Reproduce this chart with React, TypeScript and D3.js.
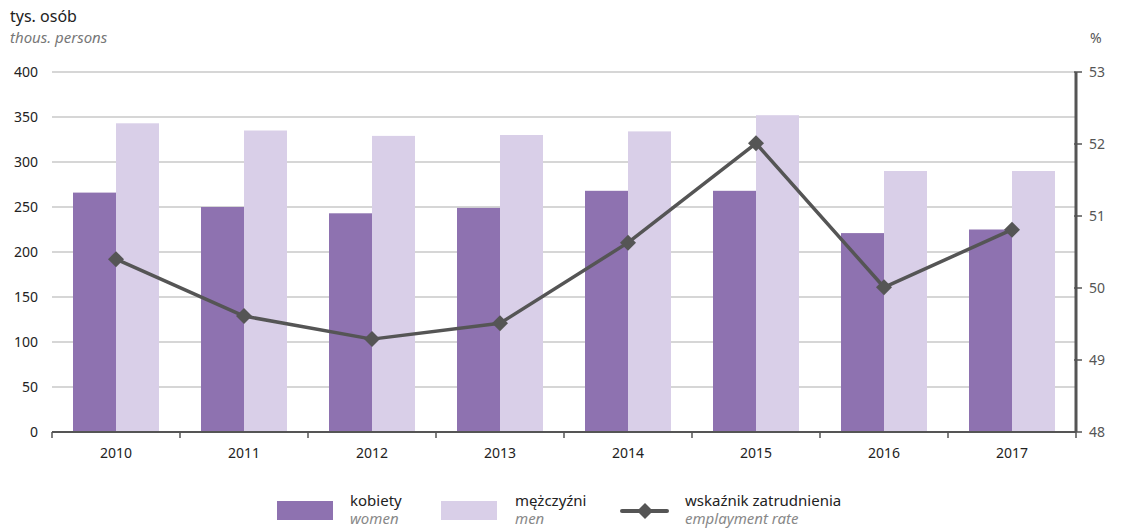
import React from "react";
import * as d3 from "d3";

const years = ["2010", "2011", "2012", "2013", "2014", "2015", "2016", "2017"];
const women = [266, 250, 243, 249, 268, 268, 221, 225];
const men = [343, 335, 329, 330, 334, 352, 290, 290];
const rate = [50.4, 49.61, 49.29, 49.51, 50.63, 52.01, 50.01, 50.81];
const leftTicks = [0, 50, 100, 150, 200, 250, 300, 350, 400];
const rightTicks = [48, 49, 50, 51, 52, 53];

const W = 1121, H = 529;
const X0 = 52, X1 = 1076, Y0 = 432, Y1 = 72;
const FONT = "'Noto Sans', 'Open Sans', sans-serif";
const C_W = "#8e72b0", C_M = "#d9cfe8", C_L = "#555555";

export default function App() {
  const x = d3.scaleBand().domain(years).range([X0, X1]).paddingInner(0).paddingOuter(0);
  const y = d3.scaleLinear().domain([0, 400]).range([Y0, Y1]);
  const yr = d3.scaleLinear().domain([48, 53]).range([Y0, Y1]);
  const bw = x.bandwidth();
  const barW = 43;
  const cx = (yv: string) => (x(yv) as number) + bw / 2;
  const line = d3.line<number>().x((_, i) => cx(years[i])).y((v) => yr(v));
  const diamond = (px: number, py: number, r: number) =>
    `M${px},${py - r}L${px + r},${py}L${px},${py + r}L${px - r},${py}Z`;

  return (
    <svg width={W} height={H} style={{ position: "absolute", left: 0, top: 0, background: "#fff" }} fontFamily={FONT}>
      <text x={10} y={22} fontSize={16} fill="#222">tys. osób</text>
      <text x={10} y={43} fontSize={15} fill="#777" fontStyle="italic">thous. persons</text>
      <text x={1090} y={43} fontSize={14} fill="#555">%</text>
      {leftTicks.map((t) => (
        <g key={t}>
          {t > 0 && <line x1={X0} x2={X1} y1={y(t)} y2={y(t)} stroke="#c8c8c8" strokeWidth={1.5} />}
          <text x={38} y={y(t) + 5} fontSize={14} textAnchor="end" fill="#222">{t}</text>
        </g>
      ))}
      {years.map((yv, i) => (
        <g key={yv}>
          <rect x={cx(yv) - barW} y={y(women[i])} width={barW} height={Y0 - y(women[i])} fill={C_W} />
          <rect x={cx(yv)} y={y(men[i])} width={barW} height={Y0 - y(men[i])} fill={C_M} />
          <text x={cx(yv)} y={458} fontSize={14} textAnchor="middle" fill="#222">{yv}</text>
        </g>
      ))}
      <line x1={X0} x2={X1} y1={Y0} y2={Y0} stroke={C_L} strokeWidth={2} />
      {years.map((yv, i) => (
        <line key={"t" + i} x1={x(yv) as number} x2={x(yv) as number} y1={Y0} y2={Y0 + 6} stroke={C_L} strokeWidth={1.5} />
      ))}
      <line x1={X1} x2={X1} y1={Y0 + 6} y2={Y0} stroke={C_L} strokeWidth={1.5} />
      <line x1={X1} x2={X1} y1={Y1} y2={Y0} stroke={C_L} strokeWidth={3} />
      {rightTicks.map((t) => (
        <g key={"r" + t}>
          <line x1={X1 - 2} x2={X1 + 6} y1={yr(t)} y2={yr(t)} stroke={C_L} strokeWidth={1.5} />
          <text x={1089} y={yr(t) + 5} fontSize={14} fill="#555">{t}</text>
        </g>
      ))}
      <path d={line(rate) as string} fill="none" stroke={C_L} strokeWidth={3.5} strokeLinejoin="round" />
      {rate.map((v, i) => (
        <path key={"d" + i} d={diamond(cx(years[i]), yr(v), 8)} fill={C_L} />
      ))}
      {/* legend */}
      <rect x={277} y={501} width={56} height={19} fill={C_W} />
      <text x={350} y={506} fontSize={15} fill="#222">kobiety</text>
      <text x={350} y={524} fontSize={15} fill="#888" fontStyle="italic">women</text>
      <rect x={441} y={501} width={56} height={19} fill={C_M} />
      <text x={515} y={506} fontSize={15} fill="#222">mężczyźni</text>
      <text x={515} y={524} fontSize={15} fill="#888" fontStyle="italic">men</text>
      <line x1={622} x2={667} y1={511} y2={511} stroke={C_L} strokeWidth={4} strokeLinecap="round" />
      <path d={diamond(645, 511, 8)} fill={C_L} />
      <text x={685} y={506} fontSize={15} fill="#222">wskaźnik zatrudnienia</text>
      <text x={685} y={524} fontSize={15} fill="#888" fontStyle="italic">emplayment rate</text>
    </svg>
  );
}
